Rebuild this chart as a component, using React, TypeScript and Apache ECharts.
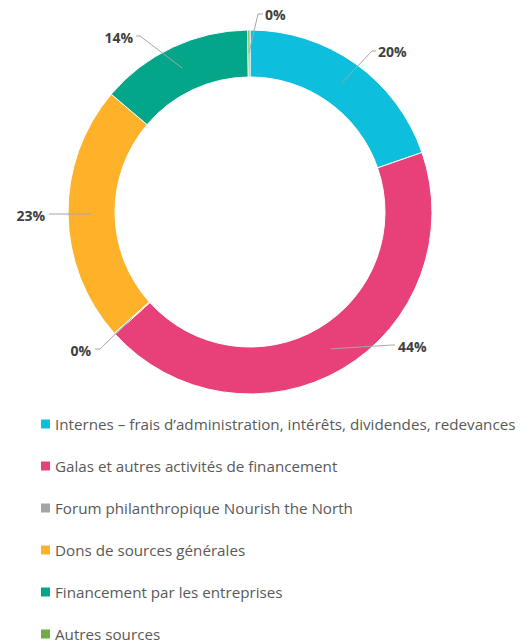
import React, { useEffect, useRef } from "react";
import * as echarts from "echarts";

const categories = [
  "Internes – frais d’administration, intérêts, dividendes, redevances",
  "Galas et autres activités de financement",
  "Forum philanthropique Nourish the North",
  "Dons de sources générales",
  "Financement par les entreprises",
  "Autres sources",
];
const values = [19.7, 43.6, 0.1, 22.8, 13.6, 0.2];
const colors = ["#0DBFDD", "#E8417A", "#A5A5A5", "#FDB22A", "#03A688", "#70AD47"];

// label placement: [x, y, align, elbowX, elbowY, endX]
const labelSpots: [number, number, "left" | "right", number, number, number][] = [
  [378, 51, "left", 372, 51, 376],
  [398, 346, "left", 392, 345, 395],
  [91, 350, "right", 100, 349, 95],
  [45, 215, "right", 55, 214, 49],
  [133, 37, "right", 140, 36, 136],
  [265, 14, "left", 258, 14, 263],
];

export default function App() {
  const ref = useRef<HTMLDivElement>(null);
  useEffect(() => {
    document.body.style.margin = "0";
    const chart = echarts.init(ref.current!, null, { renderer: "svg" });
    const data = categories.map((name, i) => ({
      name,
      value: values[i],
      itemStyle: { color: colors[i] },
    }));
    chart.setOption({
      animation: false,
      legend: {
        orient: "vertical",
        left: 41,
        top: 416,
        height: 260,
        padding: 0,
        itemWidth: 9,
        itemHeight: 9,
        itemGap: 26,
        icon: "rect",
        itemStyle: { borderWidth: 0 },
        data: categories,
        textStyle: {
          fontFamily: "Open Sans",
          fontSize: 15.2,
          color: "#595959",
          lineHeight: 16,
        },
      },
      series: [
        {
          type: "pie",
          center: [250, 212],
          radius: [135, 182],
          startAngle: 90,
          clockwise: true,
          silent: true,
          label: { show: false },
          labelLine: { show: false },
          itemStyle: { borderColor: "#fff", borderWidth: 1 },
          data,
        },
        {
          type: "pie",
          center: [250, 212],
          radius: [0, 159],
          startAngle: 90,
          clockwise: true,
          silent: true,
          z: 5,
          itemStyle: { color: "rgba(0,0,0,0)" },
          data: categories.map((name, i) => ({
            name,
            value: values[i],
            itemStyle: { color: "rgba(0,0,0,0)" },
          })),
          label: {
            show: true,
            position: "outside",
            formatter: (p: any) => Math.round(p.value) + "%",
            fontFamily: "Open Sans",
            fontWeight: "bold",
            fontSize: 14,
            color: "#404040",
          },
          labelLine: {
            show: true,
            length: 10,
            length2: 5,
            lineStyle: { color: "#A6A6A6", width: 1 },
          },
          labelLayout: (params: any) => {
            const s = labelSpots[params.dataIndex];
            const pts = params.labelLinePoints;
            const start = pts ? pts[0] : [250, 212];
            return {
              x: s[0],
              y: s[1],
              align: s[2],
              verticalAlign: "middle",
              labelLinePoints: [start, [s[3], s[4]], [s[5], s[4]]],
            };
          },
        },
      ],
    });
    return () => chart.dispose();
  }, []);
  return <div ref={ref} style={{ width: 524, height: 644 }} />;
}
